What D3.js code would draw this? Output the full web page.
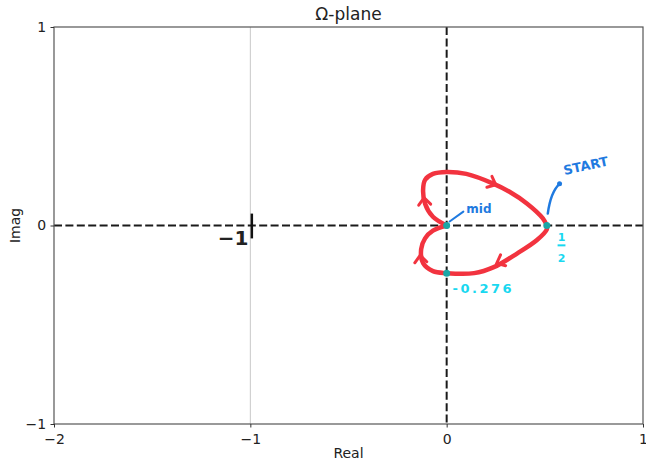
<!DOCTYPE html>
<html>
<head>
<meta charset="utf-8">
<script src="https://cdn.jsdelivr.net/npm/d3@7"></script>
<style>
  body { margin: 0; background: #fff; }
  text { font-family: "DejaVu Sans", sans-serif; }
</style>
</head>
<body>
<svg id="chart" width="646" height="460"></svg>
<script>
// axis ticks
var xTicks = [-2, -1, 0, 1];
var yTicks = [-1, 0, 1];

// hand drawn nyquist curve (real, imag)
var upperLoop = [
  [0.51, 0.0], [0.49, 0.036], [0.41, 0.11], [0.32, 0.17], [0.24, 0.21],
  [0.10, 0.26], [0.0, 0.27], [-0.07, 0.26], [-0.11, 0.23], [-0.12, 0.18],
  [-0.11, 0.11], [-0.07, 0.044], [0.0, 0.0]
];
var lowerLoop = [
  [0.0, 0.0], [-0.07, -0.026], [-0.11, -0.065], [-0.13, -0.12], [-0.12, -0.19],
  [-0.07, -0.23], [0.0, -0.24], [0.14, -0.24], [0.24, -0.21], [0.36, -0.14],
  [0.46, -0.073], [0.51, -0.02], [0.51, 0.0]
];
// arrow heads: real, imag, heading (deg, screen)
var arrowHeads = [
  [0.25, 0.205, 25],
  [-0.115, 0.14, -95],
  [-0.135, -0.15, -95],
  [0.255, -0.19, 155]
];
// cyan points on the curve
var markPoints = [[0, 0], [0, -0.24], [0.51, 0]];

var svg = d3.select("#chart");
var plotLeft = 54, plotRight = 643, plotTop = 27, plotBottom = 424;

var x = d3.scaleLinear().domain([-2, 1]).range([plotLeft, plotRight]);
var y = d3.scaleLinear().domain([-1, 1]).range([plotBottom, plotTop]);

// thin grey line at -1
svg.append("line")
  .attr("x1", x(-1)).attr("x2", x(-1))
  .attr("y1", y(1)).attr("y2", y(-1))
  .style("stroke", "#c8c8c8")
  .style("stroke-width", 1);

// dashed axes
svg.append("line")
  .attr("x1", x(-2)).attr("x2", x(1))
  .attr("y1", y(0)).attr("y2", y(0))
  .style("stroke", "#1a1a1a")
  .style("stroke-width", 2)
  .style("stroke-dasharray", "8,3.4");
svg.append("line")
  .attr("x1", x(0)).attr("x2", x(0))
  .attr("y1", y(1)).attr("y2", y(-1))
  .style("stroke", "#1a1a1a")
  .style("stroke-width", 2)
  .style("stroke-dasharray", "8,3.4");

// frame
svg.append("rect")
  .attr("x", plotLeft).attr("y", plotTop)
  .attr("width", plotRight - plotLeft).attr("height", plotBottom - plotTop)
  .style("fill", "none")
  .style("stroke", "#555")
  .style("stroke-width", 1.2);

// axes
function fmt(d) {
  return d < 0 ? "\u2212" + Math.abs(d) : d;
}
var xAxis = svg.append("g")
  .attr("transform", "translate(0," + plotBottom + ")")
  .call(d3.axisBottom(x).tickValues(xTicks).tickSize(3.5).tickFormat(fmt));
var yAxis = svg.append("g")
  .attr("transform", "translate(" + plotLeft + ",0)")
  .call(d3.axisLeft(y).tickValues(yTicks).tickSize(3.5).tickFormat(fmt));
[xAxis, yAxis].forEach(function(g){
  g.select(".domain").remove();
  g.selectAll("line").style("stroke", "#333");
  g.selectAll("text")
    .style("font-family", "DejaVu Sans, sans-serif")
    .style("font-size", "14px")
    .style("fill", "#222");
});
xAxis.selectAll("text").attr("dy", "0.95em");
yAxis.selectAll("text").attr("dx", "-0.1em");

// labels
svg.append("text")
  .attr("x", (plotLeft + plotRight) / 2).attr("y", 20)
  .attr("text-anchor", "middle")
  .style("font-size", "17px")
  .style("fill", "#222")
  .text("\u03A9-plane");
svg.append("text")
  .attr("x", (plotLeft + plotRight) / 2).attr("y", 458)
  .attr("text-anchor", "middle")
  .style("font-size", "14px")
  .style("fill", "#222")
  .text("Real");
svg.append("text")
  .attr("transform", "translate(20," + y(0) + ") rotate(-90)")
  .attr("text-anchor", "middle")
  .style("font-size", "14px")
  .style("fill", "#222")
  .text("Imag");

// the -1 mark
svg.append("line")
  .attr("x1", x(-1) + 1.5).attr("x2", x(-1) + 1.5)
  .attr("y1", y(0.06)).attr("y2", y(-0.065))
  .style("stroke", "#111")
  .style("stroke-width", 2.5);
svg.append("text")
  .attr("x", x(-1) - 2).attr("y", y(-0.1))
  .attr("text-anchor", "end")
  .style("font-size", "20px")
  .style("font-weight", "bold")
  .style("fill", "#222")
  .text("\u22121");

// red curve
var line = d3.line()
  .x(function(d){ return x(d[0]); })
  .y(function(d){ return y(d[1]); })
  .curve(d3.curveCatmullRom);

svg.selectAll(".loop")
  .data([upperLoop, lowerLoop])
  .enter()
  .append("path")
  .attr("class", "loop")
  .attr("d", line)
  .style("fill", "none")
  .style("stroke", "#f2333f")
  .style("stroke-width", 4.5)
  .style("stroke-linecap", "round")
  .style("stroke-linejoin", "round");

svg.selectAll(".head")
  .data(arrowHeads)
  .enter()
  .append("path")
  .attr("class", "head")
  .attr("d", "M-7,-6 L0,0 L-7,6")
  .attr("transform", function(d){
    return "translate(" + x(d[0]) + "," + y(d[1]) + ") rotate(" + d[2] + ")";
  })
  .style("fill", "none")
  .style("stroke", "#f2333f")
  .style("stroke-width", 3)
  .style("stroke-linecap", "round");

svg.selectAll(".mark")
  .data(markPoints)
  .enter()
  .append("circle")
  .attr("class", "mark")
  .attr("cx", function(d){ return x(d[0]); })
  .attr("cy", function(d){ return y(d[1]); })
  .attr("r", 3.5)
  .style("fill", "#1aa6a6");

// START note
svg.append("path")
  .attr("d", "M" + x(0.515) + "," + y(0.06) + " Q" + x(0.53) + "," + y(0.17) + " " + x(0.575) + "," + y(0.21))
  .style("fill", "none")
  .style("stroke", "#1f7ae0")
  .style("stroke-width", 2.5)
  .style("stroke-linecap", "round");
svg.append("circle")
  .attr("cx", x(0.575)).attr("cy", y(0.21))
  .attr("r", 2.5)
  .style("fill", "#1f7ae0");
svg.append("text")
  .attr("transform", "translate(" + x(0.6) + "," + y(0.255) + ") rotate(-12)")
  .style("font-size", "13px")
  .style("font-weight", "bold")
  .style("fill", "#1f7ae0")
  .text("START");

// mid note
svg.append("line")
  .attr("x1", x(0.015)).attr("y1", y(0.02))
  .attr("x2", x(0.085)).attr("y2", y(0.07))
  .style("stroke", "#1f7ae0")
  .style("stroke-width", 2)
  .style("stroke-linecap", "round");
svg.append("text")
  .attr("x", x(0.1)).attr("y", y(0.065))
  .style("font-size", "12px")
  .style("font-weight", "bold")
  .style("fill", "#1f7ae0")
  .text("mid");

// 1/2 note
svg.append("text")
  .attr("x", x(0.585)).attr("y", y(-0.08))
  .attr("text-anchor", "middle")
  .style("font-size", "11px")
  .style("font-weight", "bold")
  .style("fill", "#19d8f0")
  .text("1");
svg.append("line")
  .attr("x1", x(0.565)).attr("x2", x(0.605))
  .attr("y1", y(-0.1)).attr("y2", y(-0.1))
  .style("stroke", "#19d8f0")
  .style("stroke-width", 2);
svg.append("text")
  .attr("x", x(0.585)).attr("y", y(-0.185))
  .attr("text-anchor", "middle")
  .style("font-size", "11px")
  .style("font-weight", "bold")
  .style("fill", "#19d8f0")
  .text("2");

// -0.276 note
svg.append("text")
  .attr("x", x(0.03)).attr("y", y(-0.34))
  .style("font-size", "13px")
  .style("font-weight", "bold")
  .style("letter-spacing", "2.5px")
  .style("fill", "#19d8f0")
  .text("-0.276");
</script>
</body>
</html>
